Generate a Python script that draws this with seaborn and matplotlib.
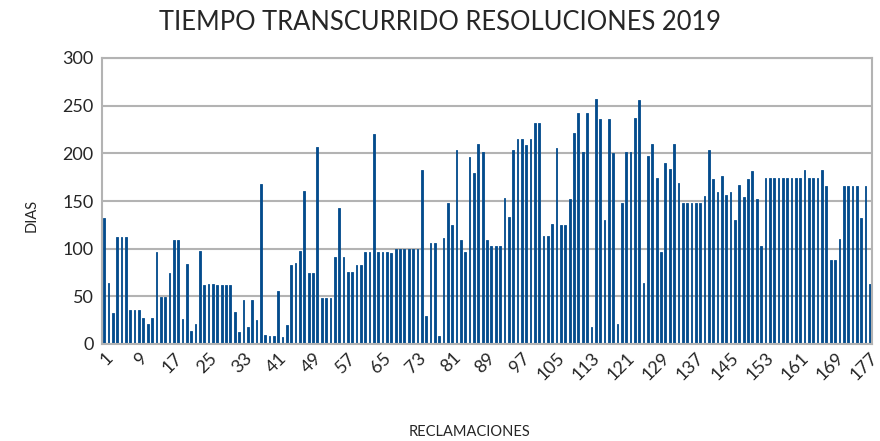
import matplotlib
matplotlib.use("Agg")
import matplotlib.pyplot as plt
import seaborn as sns
import pandas as pd

# dias transcurridos por reclamacion
dias = [
    132, 64, 32, 112, 112, 112, 36, 36, 36, 27,
    21, 27, 97, 49, 49, 74, 109, 109, 26, 84,
    14, 21, 98, 62, 63, 63, 62, 62, 62, 62,
    34, 13, 46, 18, 46, 25, 168, 9, 8, 8,
    56, 7, 20, 83, 85, 98, 160, 75, 75, 207,
    48, 48, 48, 91, 143, 91, 76, 76, 83, 83,
    97, 97, 220, 97, 97, 97, 95, 100, 100, 100,
    100, 100, 100, 182, 29, 106, 106, 8, 111, 148,
    125, 203, 109, 97, 196, 179, 210, 201, 109, 103,
    103, 103, 153, 133, 203, 215, 215, 209, 215, 232,
    232, 113, 113, 126, 206, 125, 125, 152, 221, 242,
    201, 242, 18, 257, 236, 130, 236, 200, 21, 148,
    201, 201, 237, 256, 64, 197, 210, 174, 97, 190,
    184, 210, 169, 148, 148, 148, 148, 148, 155, 203,
    173, 159, 176, 156, 159, 130, 167, 154, 173, 181,
    152, 103, 174, 174, 174, 174, 174, 174, 174, 174,
    174, 182, 174, 174, 174, 182, 166, 88, 88, 110,
    166, 166, 166, 166, 132, 166, 63,
]
reclamacion = list(range(1, len(dias) + 1))
tick_labels = [str(n) for n in reclamacion[::8]]

df = pd.DataFrame({"RECLAMACIONES": reclamacion, "DIAS": dias})

sns.set_style("white")
plt.rcParams["font.family"] = ["Lato", "DejaVu Sans"]

fig, ax = plt.subplots(figsize=(8.8, 4.41), dpi=100)
fig.subplots_adjust(left=102 / 880, right=872 / 880, top=1 - 58 / 441, bottom=1 - 344 / 441)

azul = "#034B8C"
sns.barplot(data=df, x="RECLAMACIONES", y="DIAS", color=azul,
            width=0.4, saturation=1, edgecolor=azul, linewidth=0.6, ax=ax)

ax.set_ylim(0, 300)
ax.set_yticks(range(0, 301, 50))
ax.set_xlim(-0.5, len(dias) - 0.5)
ax.set_xticks(range(0, len(dias), 8))
ax.set_xticklabels(tick_labels, rotation=45, ha="right", va="top",
                   rotation_mode="anchor", fontsize=13)
ax.tick_params(axis="y", labelsize=13, length=0, pad=6)
ax.tick_params(axis="x", length=0, pad=4)
ax.yaxis.grid(True, color="#b3b3b3", linewidth=1.5)
ax.set_axisbelow(True)
for s in ax.spines.values():
    s.set_color("#b3b3b3")
    s.set_linewidth(1.5)
ax.set_xlabel("")
ax.set_ylabel("")

fig.text(0.5, 1 - 22 / 441, "TIEMPO TRANSCURRIDO RESOLUCIONES 2019",
         ha="center", va="center", fontsize=18.4)
fig.text(32 / 880, 1 - 215 / 441, "DIAS", rotation=90,
         ha="center", va="center", fontsize=10.5)
fig.text(469 / 880, 1 - 432 / 441, "RECLAMACIONES",
         ha="center", va="center", fontsize=10.5)

fig.savefig("out.png", dpi=100)
